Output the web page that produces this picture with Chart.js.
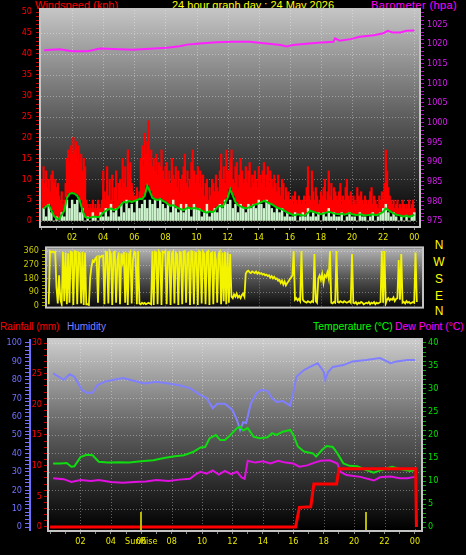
<!DOCTYPE html>
<html><head><meta charset="utf-8">
<script src="https://cdn.jsdelivr.net/npm/chart.js@4.4.1/dist/chart.umd.min.js"></script>
<style>
html,body{margin:0;padding:0;background:#000;width:466px;height:555px;overflow:hidden;position:relative;}
canvas{position:absolute;left:0;}
.t{position:absolute;font-family:'Liberation Sans',Arial,sans-serif;font-size:11px;white-space:nowrap;line-height:12px;}
.d{position:absolute;left:433px;width:12px;text-align:center;font:12px 'Liberation Sans',Arial,sans-serif;color:#ffff00;line-height:12px;}
</style></head><body>
<div class="t" style="left:35px;top:-1px;color:#ff0000">Windspeed (kph)</div>
<div class="t" style="left:172px;top:-1px;color:#ffff00">24 hour graph day : 24 May 2026</div>
<div class="t" style="left:371px;top:-1px;color:#ff00ff;letter-spacing:0.4px">Barometer (hpa)</div>
<div class="t" style="left:0px;top:321px;color:#ff0000;font-size:10px">Rainfall (mm)</div>
<div class="t" style="left:67px;top:321px;color:#8080ff;font-size:10px">Humidity</div>
<div class="t" style="left:313px;top:321px;color:#00ff00;font-size:10.4px">Temperature (°C)</div>
<div class="t" style="left:395px;top:321px;color:#ff00ff;font-size:10.4px">Dew Point (°C)</div>
<div class="d" style="top:239px">N</div>
<div class="d" style="top:256px">W</div>
<div class="d" style="top:273px">S</div>
<div class="d" style="top:290px">E</div>
<div class="d" style="top:305px">N</div>
<canvas id="c1" width="466" height="246" style="top:0px"></canvas>
<canvas id="c2" width="466" height="75" style="top:240px"></canvas>
<canvas id="c3" width="466" height="237" style="top:318px"></canvas>
<script>
// ---------------- DATA ----------------
// Wind gust (5-minute samples, first at 00:05) - one row per hour
const GUST_T0 = 1/12, GUST_DT = 1/12;
const windGust = [
10,13,9,12,8,10,7,11,12,9,10,8,
9,6,5,7,4,5,9,15,17,14,18,16,
20,17,19,15,18,14,16,12,15,13,5,4,
3,4,3,5,3,4,3,5,4,3,5,12,
7,5,13,6,10,5,11,4,8,12,5,9,
10,8,15,9,13,8,17,11,14,9,7,6,
6,8,5,7,15,18,13,21,16,19,24,14,
17,13,15,12,16,11,14,13,17,12,10,13,
14,10,12,9,15,11,10,13,8,12,7,10,
11,13,16,9,12,8,10,14,17,12,9,11,
13,9,12,8,11,6,9,10,5,8,6,10,
9,7,11,8,7,12,16,10,13,9,17,12,
12,15,17,10,9,13,14,8,11,15,12,9,
10,13,9,12,14,8,11,9,12,10,8,13,
11,9,12,14,8,11,13,9,12,10,8,11,
9,7,11,8,6,10,9,5,8,6,7,5,
5,6,4,7,5,4,6,5,4,5,6,4,
8,13,6,5,12,7,5,8,6,4,5,7,
6,8,10,5,7,12,6,9,5,8,7,6,
5,7,9,4,6,5,8,10,6,5,7,4,
6,5,4,8,6,5,7,5,4,6,5,4,
5,7,8,4,6,5,4,3,6,5,7,4,
9,17,12,8,6,5,4,5,3,4,5,3,
4,3,5,4,3,4,3,5,3,4,5,3];
// Average wind and wind speed (10-minute samples, first at 00:10)
const WIND_T0 = 1/6, WIND_DT = 1/6;
const windAvg = [
2.9,3.5,3.8,2.5,1.2,0.6,
0.5,1.5,2.5,5.5,6.5,6.7,
6.5,6.0,4.8,2.5,1.0,0.7,
0.8,1.0,1.0,0.9,1.2,2.0,
2.4,2.8,3.0,2.6,2.8,3.2,
4.0,4.6,4.4,4.8,4.5,4.8,
5.0,5.3,5.2,6.0,8.4,7.0,
5.5,5.2,5.0,5.3,4.8,4.5,
4.0,3.6,3.8,3.4,3.0,2.8,
2.6,3.0,3.2,2.9,3.1,3.0,
2.8,2.5,2.2,2.0,2.3,2.1,
2.4,3.3,3.6,3.4,4.5,5.5,
7.6,6.0,4.5,3.8,3.5,3.2,
3.0,3.2,3.4,3.8,4.0,4.2,
4.5,4.8,4.6,4.2,4.0,3.6,
3.2,3.0,2.8,2.4,2.0,1.8,
1.5,1.4,1.6,1.5,1.3,1.4,
2.0,2.4,2.2,2.0,1.8,1.6,
1.8,2.0,2.2,2.0,1.8,1.7,
1.6,1.8,1.5,1.7,1.9,1.6,
1.5,1.4,1.6,1.5,1.3,1.4,
1.5,1.6,1.4,1.5,1.8,2.2,
3.0,2.6,2.2,1.8,1.5,1.4,
1.2,1.1,1.3,1.0,1.2,1.5];
const windSpeed = [
3,1,4,2,0,1,
0,2,1,5,3,5,
4,5,2,3,0,1,
0,2,1,0,2,1,
3,1,4,2,3,1,
4,2,5,3,4,2,
5,3,4,5,3,5,
4,5,3,5,4,3,
4,2,5,3,2,4,
2,4,3,1,4,3,
3,1,2,4,1,2,
3,2,4,3,5,4,
5,3,4,2,4,3,
2,4,3,4,3,5,
4,3,5,4,3,2,
3,2,3,1,2,1,
1,2,0,1,2,1,
3,1,2,1,2,0,
2,1,3,1,2,1,
1,2,0,1,2,1,
1,0,2,1,1,0,
1,2,0,1,2,3,
4,2,1,2,1,0,
1,0,1,0,1,2];
const baroHours = [0.2,1.2,2.0,3.0,3.8,5.9,8.1,8.9,9.4,10.2,11.3,12.3,13.4,14.5,15.4,15.8,16.2,16.7,17.8,18.8,18.9,19.2,19.9,20.5,21.4,22.0,22.3,22.6,23.1,23.5,24.0];
const baro = [1018.4,1018.6,1018.1,1018.1,1018.8,1018.5,1019.0,1019.4,1019.8,1020.1,1020.4,1020.5,1020.5,1020.1,1019.7,1019.3,1019.7,1019.9,1020.3,1020.5,1021.4,1020.8,1021.2,1021.8,1022.2,1022.7,1023.3,1022.9,1022.9,1023.3,1023.4];
// Wind direction (5-minute samples, first at 00:30)
const DIR_T0 = 0.5, DIR_DT = 1/12;
const windDir = [
10,358,352,356,350,355,
120,15,200,40,10,355,30,350,10,345,20,355,
350,5,358,355,10,350,345,15,355,5,350,10,
10,5,185,260,298,290,310,320,20,325,320,330,
330,10,355,350,15,358,340,5,350,355,20,300,
350,10,345,290,355,20,350,5,340,355,15,300,
355,350,10,358,15,10,20,12,18,10,15,20,
15,10,358,5,355,350,10,358,345,5,355,350,
358,10,350,355,5,345,358,15,350,340,5,355,
350,10,355,358,20,345,350,5,358,355,10,350,
345,5,358,350,15,355,340,10,350,358,5,345,
350,10,355,300,20,340,355,10,350,30,355,10,
350,20,340,60,50,75,60,80,55,65,50,70,
80,60,210,225,230,220,215,225,220,215,225,210,
220,210,215,205,210,200,205,195,200,185,195,180,
190,175,180,165,170,150,165,140,160,135,150,160,
175,185,200,360,40,50,35,45,30,360,40,30,
25,20,30,25,20,30,25,340,30,20,180,200,
170,210,150,200,190,220,180,360,20,15,25,20,
360,25,20,30,25,20,30,25,20,25,30,20,
340,20,15,25,10,20,15,25,20,10,15,20,
15,25,10,20,15,25,10,20,15,20,25,360,
20,360,15,40,50,35,45,40,55,30,45,50,
300,40,340,20,25,15,30,20,25,15,20,25,
20,350,25];
// Humidity / temperature / dew point / rainfall
const humHours = [0.2,0.9,1.3,1.6,2.1,2.4,2.8,3.1,3.6,4.2,4.8,5.5,6.2,7.0,7.8,8.5,9.2,9.9,10.3,10.7,11.0,11.5,12.0,12.3,12.5,12.7,12.9,13.2,13.6,13.9,14.3,14.6,14.9,15.3,15.8,16.0,16.2,16.7,17.1,17.6,18.0,18.1,18.3,18.6,19.3,19.9,20.8,21.7,22.4,22.8,23.5,24.0];
const humidity = [83.5,80,83,81.7,74.5,73,73,77,79,80,81,79.5,78,79,78,77,75.5,71.7,70,64.6,67,67,63.6,58,52.7,57,56.5,67,72.8,74.5,74,70,68,68.5,66,73,81.7,85.3,87,89,84.4,80,84.4,87,88,90,90.8,91.8,89,90,90.8,90.8];
const tempHours = [0.2,0.7,1.1,1.4,1.6,2.0,2.4,2.8,3.2,3.8,4.5,5.2,6.0,6.8,7.5,8.2,8.8,9.4,9.9,10.2,10.5,10.9,11.2,11.5,11.8,12.3,12.5,12.7,13.0,13.4,13.8,14.3,14.6,14.9,15.3,15.8,16.0,16.3,16.7,17.3,17.5,17.9,18.2,18.6,18.9,19.3,19.7,20.2,20.8,21.3,21.7,22.5,23.0,23.7,24.0];
const temperature = [13.8,13.8,13.9,13.1,13.2,15.2,15.7,15.6,14.2,14.0,14.1,14.0,14.3,14.5,15.0,15.4,15.6,16.3,17.3,17.4,19.3,20.0,18.9,18.9,19.8,21.5,21.8,21.0,21.5,19.6,19.3,19.5,20.4,20.0,20.7,21.1,20.0,17.5,16.4,16.0,15.3,16.8,17.6,17.4,16.0,13.8,13.3,13.2,12.4,11.8,12.3,13.1,12.6,12.2,12.4];
const dewHours = [0.2,0.9,1.4,2.0,2.7,3.2,4.0,4.8,5.5,6.3,7.0,7.8,8.5,9.2,9.6,9.9,10.3,10.7,11.1,11.5,11.9,12.3,12.6,12.8,13.0,13.5,14.0,14.5,15.0,15.5,16.0,16.4,16.9,17.4,17.8,18.4,18.9,19.1,19.5,20.4,21.3,21.7,22.4,23.0,23.5,24.0];
const dewPoint = [10.6,10.4,9.8,10.2,10.0,10.2,9.8,9.6,9.8,9.9,10.2,10.0,10.3,10.5,11.5,12.0,11.6,12.3,11.4,12.2,11.5,12.0,10.8,10.5,14.4,14.0,14.3,13.8,14.4,14.0,13.8,13.1,13.4,14.0,14.4,14.5,13.8,12.0,11.3,10.9,10.1,10.8,11.0,10.6,10.6,10.9];
const rainHours = [0,16.15,16.4,17.15,17.35,18.85,19.0,24.05,24.1];
const rainfall = [0,0,3.2,3.3,7.0,7.0,9.5,9.5,0];
const sunriseHour = 6.0, sunsetHour = 20.8;
// Axis ticks
const hourTicks = [2,4,6,8,10,12,14,16,18,20,22,24];
const hourLabels = ['02','04','06','08','10','12','14','16','18','20','22','00'];
const windTicks = [0,5,10,15,20,25,30,35,40,45,50];
const baroTicks = [975,980,985,990,995,1000,1005,1010,1015,1020,1025];
const dirTicks = [0,90,180,270,360];
const humTicks = [0,10,20,30,40,50,60,70,80,90,100];
const rainTicks = [0,5,10,15,20,25,30];
const tempTicks = [0,5,10,15,20,25,30,35,40];

// ---------------- HELPERS ----------------
const regular = (arr, t0, dt) => arr.map((v, i) => ({x: t0 + i * dt, y: v}));
const paired = (hrs, arr) => arr.map((v, i) => ({x: hrs[i], y: v}));
const FONT = {family: "'Liberation Sans Narrow','DejaVu Sans Condensed','Arial Narrow',sans-serif", size: 9};
function minorTicks(lo, hi, step) { return ax => { const t = []; for (let k = 0; lo + k * step <= hi + 1e-9; k++) t.push({value: +(lo + k * step).toFixed(4)}); ax.ticks = t; }; }
const labelFrom = list => v => list.includes(v) ? String(v) : '';
const hourLabel = v => { const i = hourTicks.indexOf(v); return i >= 0 ? hourLabels[i] : ''; };

const panelBg = {
  id: 'panelBg',
  beforeDatasetsDraw(chart, args, o) {
    const {ctx, chartArea: a} = chart;
    ctx.save();
    const g = ctx.createLinearGradient(0, a.top, 0, a.bottom);
    g.addColorStop(0, o.top); g.addColorStop(0.5, o.mid); g.addColorStop(1, o.bottom);
    ctx.fillStyle = g;
    ctx.fillRect(a.left, a.top, a.width, a.height);
    ctx.strokeStyle = 'rgba(255,255,255,0.35)';
    ctx.lineWidth = 1;
    ctx.setLineDash([1, 2]);
    const xs = chart.scales.x, ys = chart.scales[o.gridAxis];
    hourTicks.forEach(h => {
      const px = Math.round(xs.getPixelForValue(h)) + 0.5;
      if (px > a.left + 3 && px < a.right - 3) { ctx.beginPath(); ctx.moveTo(px, a.top); ctx.lineTo(px, a.bottom); ctx.stroke(); }
    });
    o.gridValues.forEach(v => {
      const py = Math.round(ys.getPixelForValue(v)) + 0.5;
      if (py > a.top + 3 && py < a.bottom - 3) { ctx.beginPath(); ctx.moveTo(a.left, py); ctx.lineTo(a.right, py); ctx.stroke(); }
    });
    ctx.restore();
  },
  afterDatasetsDraw(chart, args, o) {
    const {ctx, chartArea: a} = chart;
    ctx.save();
    ctx.strokeStyle = '#c4c4c4';
    ctx.lineWidth = 2;
    ctx.strokeRect(a.left - 1, a.top - 1, a.width + 2, a.height + 2);
    if (o.sun) {
      const xs = chart.scales.x;
      ctx.strokeStyle = '#b8b800';
      ctx.lineWidth = 2;
      [sunriseHour, sunsetHour].forEach(h => {
        const px = Math.round(xs.getPixelForValue(h));
        ctx.beginPath(); ctx.moveTo(px, a.bottom); ctx.lineTo(px, a.bottom - 18); ctx.stroke();
      });
      ctx.fillStyle = '#e8e800';
      ctx.font = FONT.size + 'px ' + FONT.family;
      ctx.textAlign = 'center'; ctx.textBaseline = 'middle';
      ctx.fillText('SunRise', xs.getPixelForValue(sunriseHour), a.bottom + 12);
    }
    ctx.restore();
  }
};

function yAxis(o) {
  return {
    type: 'linear', position: o.pos, min: o.min, max: o.max, weight: o.weight || 0,
    afterBuildTicks: minorTicks(o.lo, o.hi, o.step),
    afterFit: s => { s.width = o.width; },
    ticks: {color: o.color, font: FONT, padding: o.pad, autoSkip: false, callback: labelFrom(o.majors)},
    grid: {drawOnChartArea: false, drawTicks: true, tickLength: 5, tickColor: o.tickColor || o.color, color: o.tickColor || o.color},
    border: o.border || {display: false}
  };
}
function xAxis(min, max, height, show) {
  return {
    type: 'linear', min, max, offset: false, display: show,
    afterBuildTicks: minorTicks(0, 24, 1),
    afterFit: s => { s.height = height; },
    ticks: {color: '#e8e800', font: FONT, padding: 2, maxRotation: 0, autoSkip: false, callback: hourLabel},
    grid: {drawOnChartArea: false, offset: false, tickLength: 4, tickColor: '#8a8a8a'},
    border: {display: false}
  };
}
const common = {responsive: false, animation: false, devicePixelRatio: 1,
  plugins: {legend: {display: false}, tooltip: {enabled: false}}};

// ---------------- PANEL 1: wind + barometer ----------------
new Chart(document.getElementById('c1'), {
  type: 'bar',
  data: {datasets: [
    {type: 'bar', data: regular(windGust, GUST_T0, GUST_DT), backgroundColor: '#ff0000', yAxisID: 'y', grouped: false, barThickness: 1.6, order: 5},
    {type: 'bar', data: regular(windAvg, WIND_T0, WIND_DT), backgroundColor: '#000000', yAxisID: 'y', grouped: false, barThickness: 2.7, order: 4},
    {type: 'bar', data: regular(windSpeed, WIND_T0, WIND_DT), backgroundColor: '#ccf4cc', yAxisID: 'y', grouped: false, barThickness: 1.8, order: 3},
    {type: 'line', data: regular(windAvg, WIND_T0, WIND_DT), borderColor: '#00d000', borderWidth: 2, pointRadius: 0, tension: 0, yAxisID: 'y', order: 2},
    {type: 'line', data: paired(baroHours, baro), borderColor: '#ff20ff', borderWidth: 2, pointRadius: 0, tension: 0, yAxisID: 'yb', order: 1}
  ]},
  options: Object.assign({}, common, {
    layout: {padding: {top: 10, left: 0, right: 0, bottom: 0}},
    scales: {
      x: xAxis(0, 24.3, 20, true),
      y: yAxis({pos: 'left', min: -1.2, max: 50.5, lo: 0, hi: 50, step: 1, majors: windTicks, width: 41, pad: 4, color: '#ff0000', tickColor: '#d00000'}),
      yb: yAxis({pos: 'right', min: 973.7, max: 1028.6, lo: 975, hi: 1028, step: 1, majors: baroTicks, width: 47, pad: 3, color: '#d81cf0', tickColor: '#c000d0'})
    },
    plugins: Object.assign({}, common.plugins, {panelBg: {top: '#c4c4c4', mid: '#5c5c5c', bottom: '#000000', gridAxis: 'y', gridValues: windTicks}})
  }),
  plugins: [panelBg]
});

// ---------------- PANEL 2: wind direction ----------------
new Chart(document.getElementById('c2'), {
  type: 'line',
  data: {datasets: [
    {data: regular(windDir, DIR_T0, DIR_DT), borderColor: '#f4f400', borderWidth: 1.8, pointRadius: 0, tension: 0, yAxisID: 'y'}
  ]},
  options: Object.assign({}, common, {
    layout: {padding: {top: 4, left: 0, right: 44, bottom: 3}},
    scales: {
      x: xAxis(0.39, 24.5, 0, false),
      y: yAxis({pos: 'left', min: -5.6, max: 377, lo: 0, hi: 360, step: 22.5, majors: dirTicks, width: 47, pad: 3, color: '#c8c800', tickColor: '#9a9a00'})
    },
    plugins: Object.assign({}, common.plugins, {panelBg: {top: '#b4b4b4', mid: '#555555', bottom: '#0a0a0a', gridAxis: 'y', gridValues: dirTicks}})
  }),
  plugins: [panelBg]
});

// ---------------- PANEL 3: temperature / humidity / rain ----------------
new Chart(document.getElementById('c3'), {
  type: 'line',
  data: {datasets: [
    {data: paired(humHours, humidity), borderColor: '#8080ff', borderWidth: 2, pointRadius: 0, tension: 0, yAxisID: 'yh', order: 4},
    {data: paired(tempHours, temperature), borderColor: '#10dc10', borderWidth: 2, pointRadius: 0, tension: 0, yAxisID: 'yt', order: 3},
    {data: paired(dewHours, dewPoint), borderColor: '#e010e0', borderWidth: 2, pointRadius: 0, tension: 0, yAxisID: 'yt', order: 2},
    {data: paired(rainHours, rainfall), borderColor: '#ff0000', borderWidth: 3, pointRadius: 0, tension: 0, yAxisID: 'yr', order: 1}
  ]},
  options: Object.assign({}, common, {
    layout: {padding: {top: 22, left: 0, right: 0, bottom: 0}},
    scales: {
      x: xAxis(-0.07, 24.4, 25, true),
      yh: yAxis({pos: 'left', weight: 1, min: -1.63, max: 101.63, lo: 0, hi: 100, step: 2, majors: humTicks, width: 30, pad: 3, color: '#7070ff', border: {display: true, color: '#7070ff', width: 2}}),
      yr: yAxis({pos: 'left', weight: 0, min: -0.49, max: 30.49, lo: 0, hi: 30, step: 1, majors: rainTicks, width: 19, pad: 2, color: '#ff0000', tickColor: '#d00000'}),
      yt: yAxis({pos: 'right', min: -0.65, max: 40.65, lo: 0, hi: 40, step: 1, majors: tempTicks, width: 45, pad: 2, color: '#00e000', tickColor: '#00b000'})
    },
    plugins: Object.assign({}, common.plugins, {panelBg: {top: '#cccccc', mid: '#5a5a5a', bottom: '#000000', gridAxis: 'yh', gridValues: humTicks, sun: true}})
  }),
  plugins: [panelBg]
});
</script>
</body></html>
